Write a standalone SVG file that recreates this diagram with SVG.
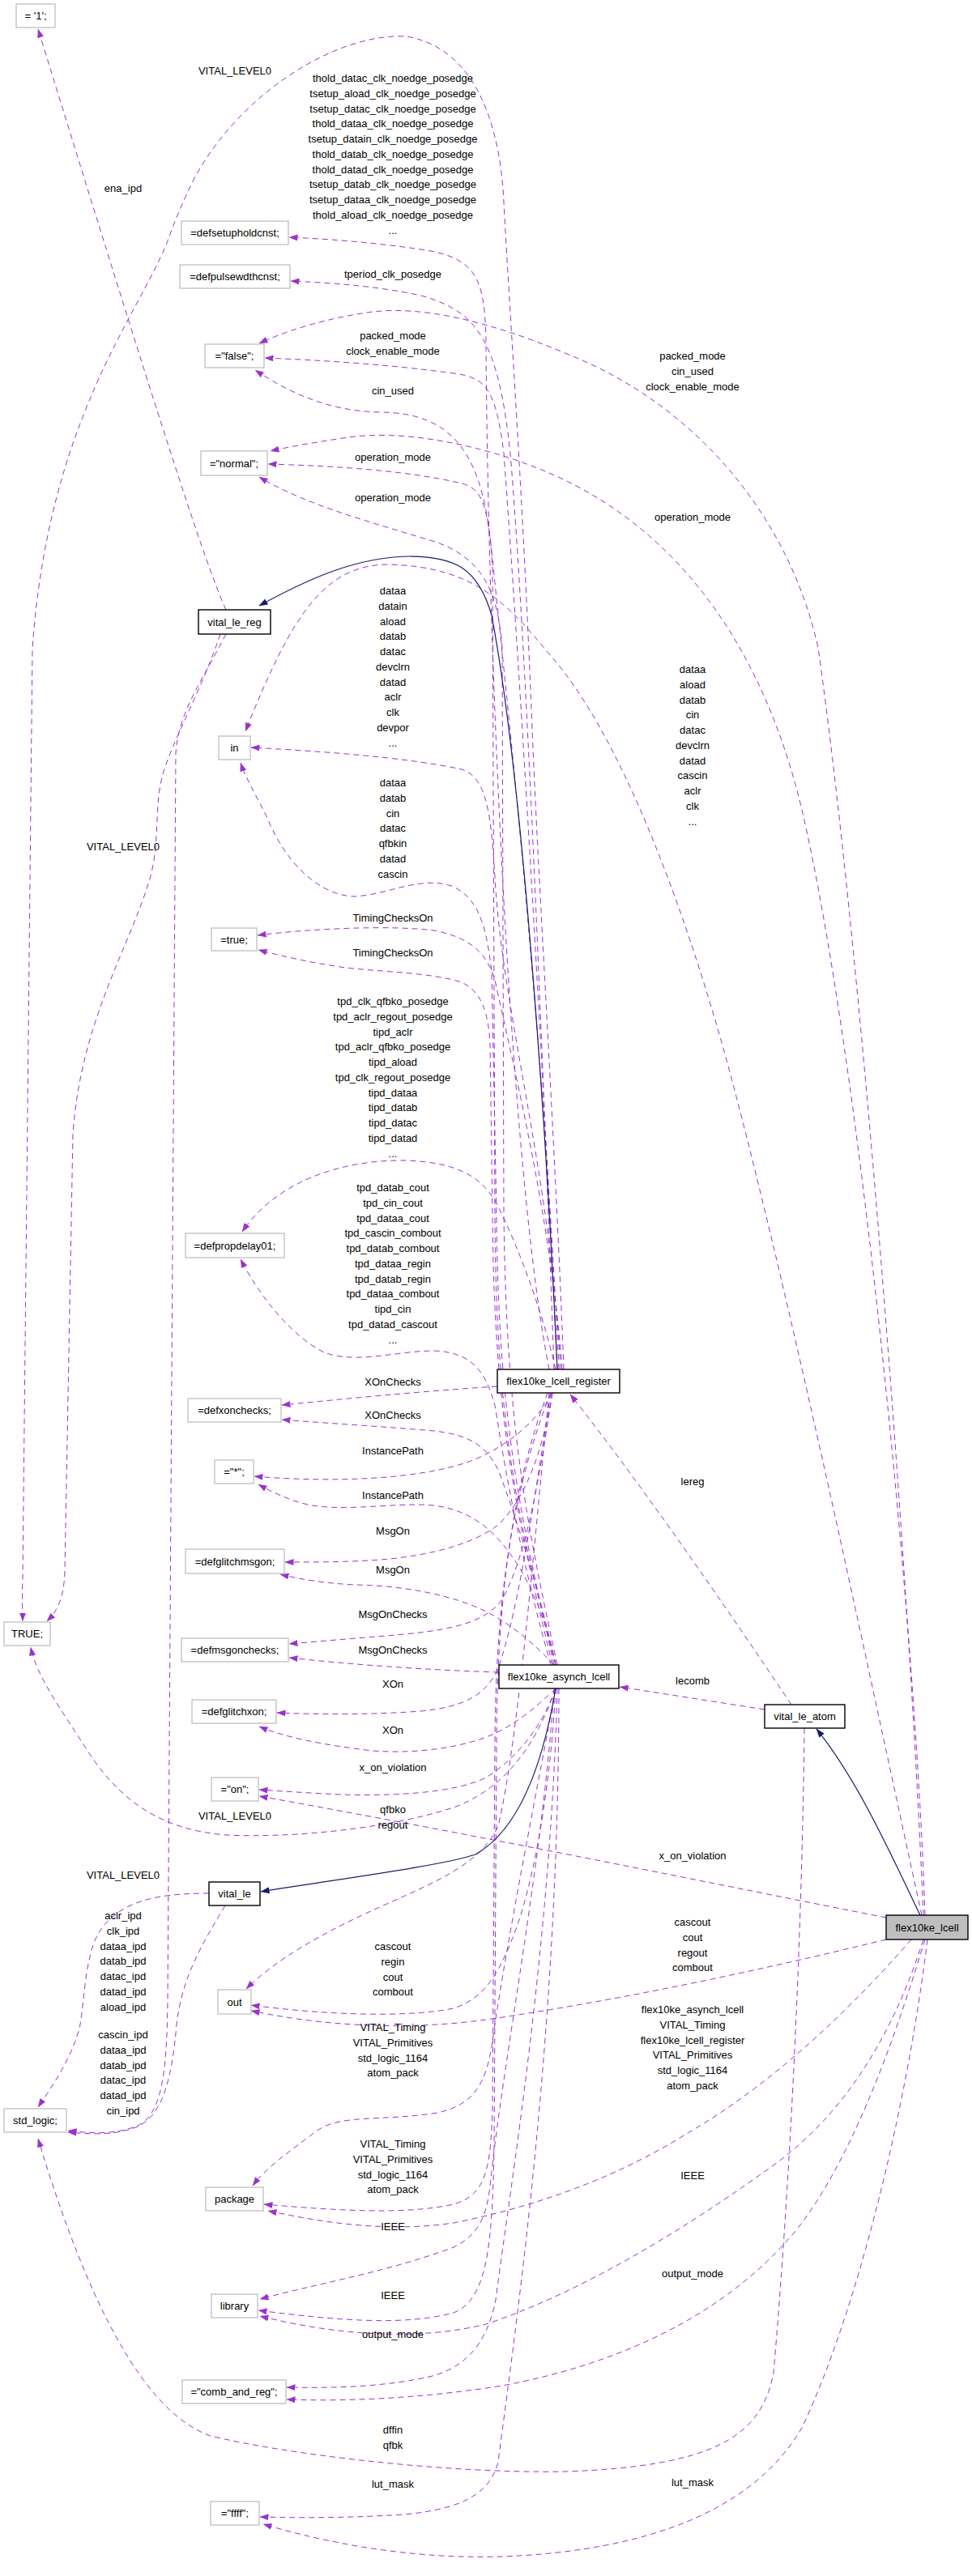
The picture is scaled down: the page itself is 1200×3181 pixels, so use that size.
<svg xmlns="http://www.w3.org/2000/svg" width="1200" height="3181" viewBox="0 0 1200 3181">
<style>
.e{fill:none;stroke:#9a32cd;stroke-width:1;stroke-dasharray:7,5;marker-end:url(#a)}
.n{fill:none;stroke:#191970;stroke-width:1.2;marker-end:url(#b)}
.v rect{fill:#fff;stroke:#bfbfbf;stroke-width:1.3}
.k rect{fill:#fff;stroke:#000;stroke-width:1.4}
.g rect{fill:#bfbfbf;stroke:#000;stroke-width:1.4}
text{font-family:"Liberation Sans",Arial,sans-serif;font-size:13px;fill:#000;text-anchor:middle}
</style>
<defs>
<marker id="a" viewBox="0 0 11 8" refX="10.5" refY="4" markerWidth="11" markerHeight="8" markerUnits="userSpaceOnUse" orient="auto"><path d="M0,0L11,4L0,8z" fill="#9a32cd"/></marker>
<marker id="b" viewBox="0 0 11 8" refX="10.5" refY="4" markerWidth="11" markerHeight="8" markerUnits="userSpaceOnUse" orient="auto"><path d="M0,0L11,4L0,8z" fill="#191970"/></marker>
</defs>
<rect width="1200" height="3181" fill="#fff"/>
<g id="connectors">
<path class="e" d="M279,753 C250,690 175,450 47,36"/>
<path class="e" d="M678,1691 C630,1450 602,800 600,420 C598,345 590,318 520,308 C450,298 400,295 357,293"/>
<path class="e" d="M684,1691 C670,1300 650,800 630,560 C615,420 590,385 520,365 C460,352 400,349 359,347"/>
<path class="e" d="M1140,2365 C1120,1900 1060,1150 1010,800 C975,640 860,500 700,437 C600,395 520,378 460,385 C400,393 350,410 320,424"/>
<path class="e" d="M1142,2365 C1130,2000 1060,1300 990,1000 C940,790 830,650 680,585 C600,550 500,530 430,540 C390,546 355,552 334,557"/>
<path class="e" d="M1138,2365 C1080,2100 980,1620 900,1320 C840,1100 760,900 680,810 C630,750 590,700 480,697 C400,697 360,760 303,903"/>
<path class="e" d="M688,1691 C670,1300 640,800 622,560 C612,480 600,466 560,461 C480,450 400,445 327,442"/>
<path class="e" d="M686,2056 C640,1880 612,1760 611,1500 L608,700 C600,560 560,510 470,509 C400,508 350,480 315,457"/>
<path class="e" d="M690,1691 C672,1300 630,900 611,720 C602,630 600,605 570,597 C500,580 400,575 331,573"/>
<path class="e" d="M688,2056 C650,1880 625,1760 622,1500 L620,800 C615,730 595,690 540,670 C460,645 380,625 320,589"/>
<path class="e" d="M692,1691 C680,1450 620,1250 611,1083 C606,1000 600,960 570,950 C500,935 400,928 310,923"/>
<path class="e" d="M684,2056 C645,1880 615,1760 613,1500 L607,1200 C600,1140 590,1110 560,1095 C520,1080 480,1105 437,1107 C390,1105 350,1060 330,1010 C315,980 303,960 297,942"/>
<path class="e" d="M694,1691 C680,1500 630,1300 611,1210 C600,1175 580,1158 536,1149 C480,1142 380,1147 318,1155"/>
<path class="e" d="M682,2056 C640,1880 610,1760 608,1500 L605,1290 C603,1250 595,1225 570,1213 C530,1200 460,1200 420,1194 C380,1188 345,1180 319,1173"/>
<path class="e" d="M686,1691 C670,1620 640,1540 615,1490 C595,1450 560,1435 500,1433 C420,1432 340,1460 299,1521"/>
<path class="e" d="M680,2056 C650,1950 625,1830 612,1740 C600,1690 580,1670 536,1668 C490,1668 440,1685 400,1670 C360,1650 320,1600 297,1555"/>
<path class="e" d="M614,1712 C520,1718 430,1727 348,1735"/>
<path class="e" d="M686,2056 C670,1980 640,1880 615,1815 C600,1785 580,1772 536,1767 C480,1762 410,1758 348,1753"/>
<path class="e" d="M682,1720 C660,1760 620,1790 576,1806 C520,1825 420,1832 314,1823"/>
<path class="e" d="M686,2056 C670,1980 640,1920 600,1886 C570,1862 540,1858 516,1858 C470,1858 420,1866 380,1858 C355,1852 335,1842 319,1833"/>
<path class="e" d="M682,1720 C670,1790 650,1850 615,1883 C580,1910 520,1922 470,1926 C430,1929 390,1929 352,1929"/>
<path class="e" d="M684,2056 C660,2030 630,2005 600,1990 C560,1970 500,1958 437,1957 C400,1955 370,1950 346,1944"/>
<path class="e" d="M682,1720 C665,1830 650,1920 620,1975 C600,2003 560,2012 500,2018 C440,2023 390,2027 357,2030"/>
<path class="e" d="M616,2065 C520,2062 430,2055 357,2047"/>
<path class="e" d="M680,1720 C660,1850 640,1990 615,2060 C600,2095 570,2108 520,2113 C450,2118 390,2117 342,2115"/>
<path class="e" d="M686,2085 C660,2110 630,2135 595,2147 C550,2162 500,2165 460,2162 C400,2155 350,2145 320,2132"/>
<path class="e" d="M686,2085 C670,2130 640,2170 600,2195 C560,2215 480,2218 420,2216 C380,2214 350,2212 320,2210"/>
<path class="e" d="M1094,2368 C900,2330 600,2268 320,2218"/>
<path class="e" d="M686,2085 C660,2160 620,2210 560,2232 C480,2258 360,2270 280,2266 C200,2260 150,2225 110,2165 C75,2110 45,2070 38,2034"/>
<path class="e" d="M678,1720 C660,1900 640,2150 615,2255 C595,2300 540,2323 480,2350 C400,2385 340,2420 304,2456"/>
<path class="e" d="M686,2085 C680,2200 660,2330 630,2400 C610,2450 590,2470 560,2480 C500,2492 400,2488 310,2476"/>
<path class="e" d="M1094,2395 C1000,2418 800,2465 600,2494 C520,2505 420,2506 310,2483"/>
<path class="e" d="M686,2085 C665,2200 625,2400 608,2520 C600,2580 580,2600 540,2609 C470,2620 420,2610 390,2632 C360,2655 330,2675 312,2699"/>
<path class="e" d="M680,1720 C640,1820 612,1950 611,2150 L608,2600 C606,2680 600,2710 560,2722 C500,2735 420,2730 326,2722"/>
<path class="e" d="M1125,2395 C1060,2470 960,2570 849,2634 C760,2690 660,2725 560,2745 C480,2757 400,2745 331,2730"/>
<path class="e" d="M684,2085 C670,2300 620,2550 605,2700 C600,2740 590,2760 560,2775 C480,2805 400,2818 321,2839"/>
<path class="e" d="M676,1720 C635,1830 614,1960 613,2150 L610,2650 C608,2780 600,2840 560,2856 C500,2872 420,2866 319,2853"/>
<path class="e" d="M1140,2395 C1100,2520 1040,2610 960,2670 C850,2750 720,2830 600,2870 C520,2890 420,2885 321,2860"/>
<path class="e" d="M688,2085 C680,2400 630,2700 612,2840 C600,2900 570,2925 530,2935 C470,2948 410,2949 354,2948"/>
<path class="e" d="M1142,2395 C1110,2500 1060,2650 990,2745 C900,2860 760,2920 620,2946 C530,2960 440,2966 354,2963"/>
<path class="e" d="M690,2085 C690,2500 640,2850 615,3040 C605,3080 570,3098 500,3105 C420,3110 360,3109 321,3108"/>
<path class="e" d="M1145,2395 C1120,2600 1060,2850 990,2998 C930,3100 800,3150 620,3157 C520,3160 420,3145 325,3117"/>
<path class="e" d="M993,2134 C990,2400 975,2700 955,2930 C940,3010 880,3045 700,3052 C550,3055 350,3030 260,3008 C180,2980 110,2850 47,2641"/>
<path class="e" d="M944,2111 L765,2083"/>
<path class="e" d="M977,2105 C900,1990 790,1830 704,1722"/>
<path class="n" d="M1136,2365 C1100,2290 1060,2200 1008,2135"/>
<path class="n" d="M688,1691 C675,1400 645,960 607,760 C590,700 560,687 504,687 C440,688 380,715 320,748"/>
<path class="n" d="M686,2085 C670,2180 640,2260 587,2290 C540,2305 420,2320 322,2336"/>
<path class="e" d="M696,1691 C685,1400 665,1100 657,900 C645,600 630,400 622,250 C618,160 590,60 502,45 C420,40 300,110 240,220 C225,250 215,275 206,300 C170,390 60,520 40,800 L28,1950 C27,1975 28,1990 28,2002"/>
<path class="e" d="M272,783 C250,850 210,920 200,960 C190,1000 198,1040 185,1085 C160,1170 100,1260 90,1400 L80,1940 C79,1975 70,1990 58,2002"/>
<path class="e" d="M279,783 C250,840 220,880 217,930 L207,2470 C206,2560 200,2610 170,2625 C140,2637 110,2634 84,2631"/>
<path class="e" d="M278,2353 C250,2400 225,2440 218,2500 C212,2570 200,2612 170,2626 C140,2638 110,2635 84,2633"/>
<path class="e" d="M258,2338 C200,2338 145,2345 120,2390 C105,2420 104,2470 99,2500 C90,2540 65,2575 47,2602"/>
</g>
<g id="edge-labels">
<text x="290" y="92">VITAL_LEVEL0</text>
<text x="152" y="237">ena_ipd</text>
<text x="485" y="101">thold_datac_clk_noedge_posedge</text>
<text x="485" y="119.75">tsetup_aload_clk_noedge_posedge</text>
<text x="485" y="138.5">tsetup_datac_clk_noedge_posedge</text>
<text x="485" y="157.25">thold_dataa_clk_noedge_posedge</text>
<text x="485" y="176">tsetup_datain_clk_noedge_posedge</text>
<text x="485" y="194.75">thold_datab_clk_noedge_posedge</text>
<text x="485" y="213.5">thold_datad_clk_noedge_posedge</text>
<text x="485" y="232.25">tsetup_datab_clk_noedge_posedge</text>
<text x="485" y="251">tsetup_dataa_clk_noedge_posedge</text>
<text x="485" y="269.75">thold_aload_clk_noedge_posedge</text>
<text x="485" y="288.5">...</text>
<text x="485" y="343">tperiod_clk_posedge</text>
<text x="485" y="419">packed_mode</text>
<text x="485" y="437.75">clock_enable_mode</text>
<text x="485" y="487">cin_used</text>
<text x="485" y="569">operation_mode</text>
<text x="485" y="619">operation_mode</text>
<text x="485" y="734">dataa</text>
<text x="485" y="752.75">datain</text>
<text x="485" y="771.5">aload</text>
<text x="485" y="790.25">datab</text>
<text x="485" y="809">datac</text>
<text x="485" y="827.75">devclrn</text>
<text x="485" y="846.5">datad</text>
<text x="485" y="865.25">aclr</text>
<text x="485" y="884">clk</text>
<text x="485" y="902.75">devpor</text>
<text x="485" y="921.5">...</text>
<text x="485" y="971">dataa</text>
<text x="485" y="989.75">datab</text>
<text x="485" y="1008.5">cin</text>
<text x="485" y="1027.25">datac</text>
<text x="485" y="1046">qfbkin</text>
<text x="485" y="1064.75">datad</text>
<text x="485" y="1083.5">cascin</text>
<text x="152" y="1050">VITAL_LEVEL0</text>
<text x="485" y="1138">TimingChecksOn</text>
<text x="485" y="1181">TimingChecksOn</text>
<text x="485" y="1241">tpd_clk_qfbko_posedge</text>
<text x="485" y="1259.75">tpd_aclr_regout_posedge</text>
<text x="485" y="1278.5">tipd_aclr</text>
<text x="485" y="1297.25">tpd_aclr_qfbko_posedge</text>
<text x="485" y="1316">tipd_aload</text>
<text x="485" y="1334.75">tpd_clk_regout_posedge</text>
<text x="485" y="1353.5">tipd_dataa</text>
<text x="485" y="1372.25">tipd_datab</text>
<text x="485" y="1391">tipd_datac</text>
<text x="485" y="1409.75">tipd_datad</text>
<text x="485" y="1428.5">...</text>
<text x="485" y="1471">tpd_datab_cout</text>
<text x="485" y="1489.75">tpd_cin_cout</text>
<text x="485" y="1508.5">tpd_dataa_cout</text>
<text x="485" y="1527.25">tpd_cascin_combout</text>
<text x="485" y="1546">tpd_datab_combout</text>
<text x="485" y="1564.75">tpd_dataa_regin</text>
<text x="485" y="1583.5">tpd_datab_regin</text>
<text x="485" y="1602.25">tpd_dataa_combout</text>
<text x="485" y="1621">tipd_cin</text>
<text x="485" y="1639.75">tpd_datad_cascout</text>
<text x="485" y="1658.5">...</text>
<text x="485" y="1711">XOnChecks</text>
<text x="485" y="1752">XOnChecks</text>
<text x="485" y="1796">InstancePath</text>
<text x="485" y="1851">InstancePath</text>
<text x="485" y="1895">MsgOn</text>
<text x="485" y="1943">MsgOn</text>
<text x="485" y="1998">MsgOnChecks</text>
<text x="485" y="2042">MsgOnChecks</text>
<text x="485" y="2084">XOn</text>
<text x="485" y="2141">XOn</text>
<text x="485" y="2187">x_on_violation</text>
<text x="485" y="2239">qfbko</text>
<text x="485" y="2257.75">regout</text>
<text x="290" y="2247">VITAL_LEVEL0</text>
<text x="152" y="2320">VITAL_LEVEL0</text>
<text x="152" y="2370">aclr_ipd</text>
<text x="152" y="2388.75">clk_ipd</text>
<text x="152" y="2407.5">dataa_ipd</text>
<text x="152" y="2426.25">datab_ipd</text>
<text x="152" y="2445">datac_ipd</text>
<text x="152" y="2463.75">datad_ipd</text>
<text x="152" y="2482.5">aload_ipd</text>
<text x="152" y="2517">cascin_ipd</text>
<text x="152" y="2535.75">dataa_ipd</text>
<text x="152" y="2554.5">datab_ipd</text>
<text x="152" y="2573.25">datac_ipd</text>
<text x="152" y="2592">datad_ipd</text>
<text x="152" y="2610.75">cin_ipd</text>
<text x="485" y="2408">cascout</text>
<text x="485" y="2426.75">regin</text>
<text x="485" y="2445.5">cout</text>
<text x="485" y="2464.25">combout</text>
<text x="485" y="2508">VITAL_Timing</text>
<text x="485" y="2526.75">VITAL_Primitives</text>
<text x="485" y="2545.5">std_logic_1164</text>
<text x="485" y="2564.25">atom_pack</text>
<text x="485" y="2652">VITAL_Timing</text>
<text x="485" y="2670.75">VITAL_Primitives</text>
<text x="485" y="2689.5">std_logic_1164</text>
<text x="485" y="2708.25">atom_pack</text>
<text x="485" y="2754">IEEE</text>
<text x="485" y="2839">IEEE</text>
<text x="485" y="2887">output_mode</text>
<text x="485" y="3005">dffin</text>
<text x="485" y="3023.75">qfbk</text>
<text x="485" y="3072">lut_mask</text>
<text x="855" y="444">packed_mode</text>
<text x="855" y="462.75">cin_used</text>
<text x="855" y="481.5">clock_enable_mode</text>
<text x="855" y="643">operation_mode</text>
<text x="855" y="831">dataa</text>
<text x="855" y="849.75">aload</text>
<text x="855" y="868.5">datab</text>
<text x="855" y="887.25">cin</text>
<text x="855" y="906">datac</text>
<text x="855" y="924.75">devclrn</text>
<text x="855" y="943.5">datad</text>
<text x="855" y="962.25">cascin</text>
<text x="855" y="981">aclr</text>
<text x="855" y="999.75">clk</text>
<text x="855" y="1018.5">...</text>
<text x="855" y="1834">lereg</text>
<text x="855" y="2080">lecomb</text>
<text x="855" y="2296">x_on_violation</text>
<text x="855" y="2378">cascout</text>
<text x="855" y="2396.75">cout</text>
<text x="855" y="2415.5">regout</text>
<text x="855" y="2434.25">combout</text>
<text x="855" y="2486">flex10ke_asynch_lcell</text>
<text x="855" y="2504.75">VITAL_Timing</text>
<text x="855" y="2523.5">flex10ke_lcell_register</text>
<text x="855" y="2542.25">VITAL_Primitives</text>
<text x="855" y="2561">std_logic_1164</text>
<text x="855" y="2579.75">atom_pack</text>
<text x="855" y="2691">IEEE</text>
<text x="855" y="2812">output_mode</text>
<text x="855" y="3070">lut_mask</text>
</g>
<g id="node-one" class="v"><rect x="20" y="5" width="48" height="29"/><text x="44" y="24">= '1';</text></g>
<g id="node-defsetupholdcnst" class="v"><rect x="224" y="273" width="132" height="29"/><text x="290" y="292">=defsetupholdcnst;</text></g>
<g id="node-defpulsewdthcnst" class="v"><rect x="222" y="327" width="136" height="29"/><text x="290" y="346">=defpulsewdthcnst;</text></g>
<g id="node-false" class="v"><rect x="253" y="425" width="73" height="29"/><text x="289.5" y="444">="false";</text></g>
<g id="node-normal" class="v"><rect x="248" y="557" width="82" height="30"/><text x="289" y="576.5">="normal";</text></g>
<g id="node-vital_le_reg" class="k"><rect x="245" y="753" width="89" height="30"/><text x="289.5" y="772.5">vital_le_reg</text></g>
<g id="node-in" class="v"><rect x="270" y="909" width="39" height="29"/><text x="289.5" y="928">in</text></g>
<g id="node-true" class="v"><rect x="261" y="1146" width="56" height="28"/><text x="289" y="1164.5">=true;</text></g>
<g id="node-defpropdelay01" class="v"><rect x="229" y="1523" width="122" height="30"/><text x="290" y="1542.5">=defpropdelay01;</text></g>
<g id="node-defxonchecks" class="v"><rect x="232" y="1727" width="115" height="29"/><text x="289.5" y="1746">=defxonchecks;</text></g>
<g id="node-star" class="v"><rect x="265" y="1803" width="48" height="29"/><text x="289" y="1822">="*";</text></g>
<g id="node-defglitchmsgon" class="v"><rect x="229" y="1913" width="122" height="30"/><text x="290" y="1932.5">=defglitchmsgon;</text></g>
<g id="node-defmsgonchecks" class="v"><rect x="224" y="2023" width="132" height="29"/><text x="290" y="2042">=defmsgonchecks;</text></g>
<g id="node-defglitchxon" class="v"><rect x="237" y="2099" width="104" height="29"/><text x="289" y="2118">=defglitchxon;</text></g>
<g id="node-on" class="v"><rect x="261" y="2195" width="58" height="29"/><text x="290" y="2214">="on";</text></g>
<g id="node-vital_le" class="k"><rect x="258" y="2324" width="63" height="29"/><text x="289.5" y="2343">vital_le</text></g>
<g id="node-out" class="v"><rect x="269" y="2457" width="41" height="30"/><text x="289.5" y="2476.5">out</text></g>
<g id="node-package" class="v"><rect x="254" y="2701" width="71" height="29"/><text x="289.5" y="2720">package</text></g>
<g id="node-library" class="v"><rect x="261" y="2833" width="57" height="29"/><text x="289.5" y="2852">library</text></g>
<g id="node-comb_and_reg" class="v"><rect x="225" y="2939" width="128" height="29"/><text x="289" y="2958">="comb_and_reg";</text></g>
<g id="node-ffff" class="v"><rect x="260" y="3089" width="60" height="29"/><text x="290" y="3108">="ffff";</text></g>
<g id="node-std_logic" class="v"><rect x="5" y="2604" width="77" height="29"/><text x="43.5" y="2623">std_logic;</text></g>
<g id="node-TRUE" class="v"><rect x="5" y="2003" width="57" height="29"/><text x="33.5" y="2022">TRUE;</text></g>
<g id="node-flex10ke_lcell_register" class="k"><rect x="614" y="1691" width="151" height="29"/><text x="689.5" y="1710">flex10ke_lcell_register</text></g>
<g id="node-flex10ke_asynch_lcell" class="k"><rect x="616" y="2056" width="148" height="29"/><text x="690" y="2075">flex10ke_asynch_lcell</text></g>
<g id="node-vital_le_atom" class="k"><rect x="944" y="2105" width="99" height="29"/><text x="993.5" y="2124">vital_le_atom</text></g>
<g id="node-flex10ke_lcell" class="g"><rect x="1094" y="2365" width="101" height="30"/><text x="1144.5" y="2384.5">flex10ke_lcell</text></g>
</svg>
